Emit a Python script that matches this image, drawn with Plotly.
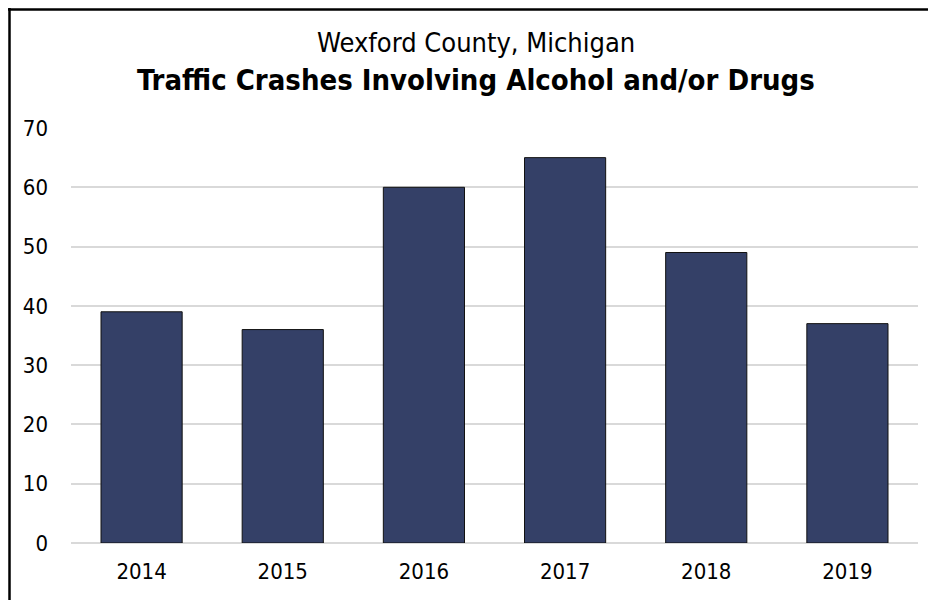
import plotly.graph_objects as go

years = ["2014", "2015", "2016", "2017", "2018", "2019"]
crashes = [39, 36, 60, 65, 49, 37]
y_ticks = [0, 10, 20, 30, 40, 50, 60, 70]

title_line1 = "Wexford County, Michigan"
title_line2 = "Traffic Crashes Involving Alcohol and/or Drugs"

# page has an 8px body margin; work in page pixel coordinates
OFF = 8
W, H = 936, 600
plot_left, plot_right, plot_top, plot_bottom = 71, 918, 128, 543
L = plot_left - OFF
R = W + OFF - plot_right
T = plot_top - OFF
B = H + OFF - plot_bottom
pw, ph = plot_right - plot_left, plot_bottom - plot_top

def px_x(px):
    return (px - plot_left) / pw

def px_y(py):
    return (plot_bottom - py) / ph

FONT = "DejaVu Sans Condensed, Liberation Sans, sans-serif"

fig = go.Figure(go.Bar(
    x=years, y=crashes,
    marker=dict(color="#344067", line=dict(color="#111111", width=1)),
    width=0.575,
))

fig.update_layout(
    width=W, height=H,
    margin=dict(l=L, r=R, t=T, b=B),
    paper_bgcolor="white", plot_bgcolor="white",
    showlegend=False,
    font=dict(family=FONT, size=22, color="#000000"),
    xaxis=dict(showgrid=False, showline=False, ticks="", tickfont=dict(size=22, color="#000"),
               ticklabelstandoff=13),
    yaxis=dict(range=[0, 70], tickvals=y_ticks, showgrid=True, gridcolor="#d9d9d9", gridwidth=1.5,
               zeroline=True, zerolinecolor="#d9d9d9", zerolinewidth=1.5, showline=False,
               ticks="", tickfont=dict(size=22, color="#000"), ticklabelstandoff=22),
    annotations=[
        dict(text=title_line1, xref="paper", yref="paper", x=px_x(476), y=px_y(43),
             xanchor="center", yanchor="middle", showarrow=False,
             font=dict(family=FONT, size=27, color="#000")),
        dict(text="<b>" + title_line2 + "</b>", xref="paper", yref="paper", x=px_x(476), y=px_y(80),
             xanchor="center", yanchor="middle", showarrow=False,
             font=dict(family=FONT, size=29, color="#000")),
    ],
    shapes=[
        dict(type="line", xref="paper", yref="paper", x0=px_x(8), x1=px_x(950), y0=px_y(9.5), y1=px_y(9.5),
             line=dict(color="black", width=2.5)),
        dict(type="line", xref="paper", yref="paper", x0=px_x(9.5), x1=px_x(9.5), y0=px_y(8), y1=px_y(615),
             line=dict(color="black", width=2.5)),
    ],
)

fig.write_html("out.html")
